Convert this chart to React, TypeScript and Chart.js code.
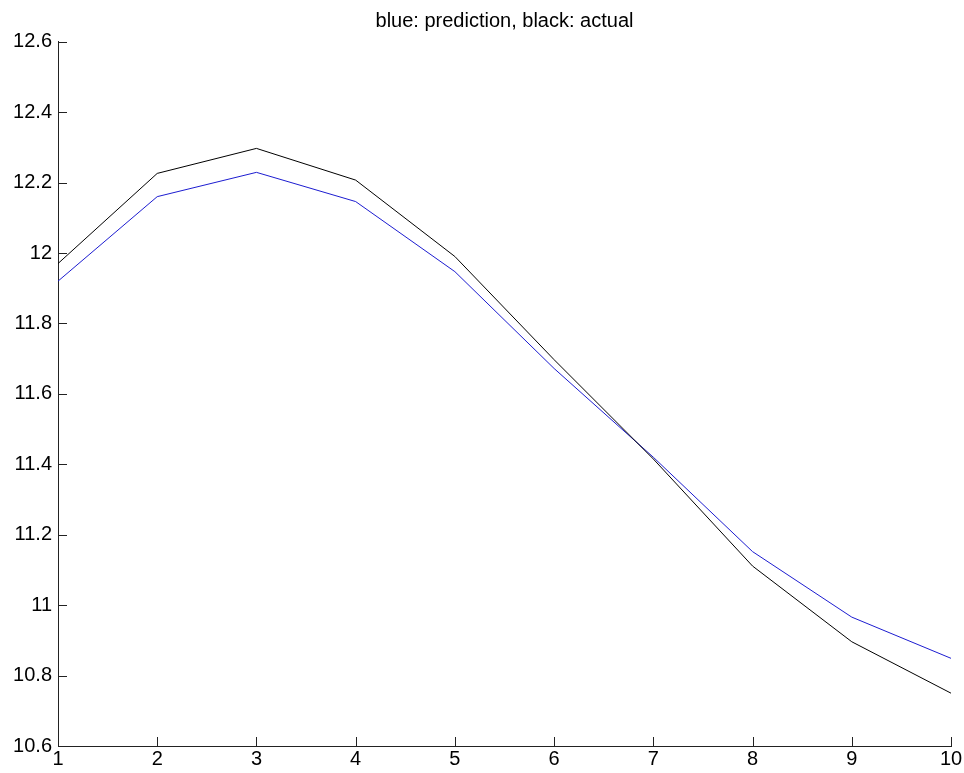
import React, { useEffect, useRef } from "react";
import { Chart, registerables } from "chart.js";

Chart.register(...registerables);

const xValues = [1, 2, 3, 4, 5, 6, 7, 8, 9, 10];
const actual = [11.97, 12.226, 12.297, 12.207, 11.99, 11.697, 11.415, 11.111, 10.896, 10.75];
const prediction = [11.92, 12.16, 12.229, 12.146, 11.947, 11.672, 11.42, 11.152, 10.966, 10.849];
const yTicks = [10.6, 10.8, 11, 11.2, 11.4, 11.6, 11.8, 12, 12.2, 12.4, 12.6];
const titleText = "blue: prediction, black: actual";

const FONT = "Arial, 'Liberation Sans', sans-serif";

export default function App() {
  const ref = useRef<HTMLCanvasElement | null>(null);
  useEffect(() => {
    if (!ref.current) return;
    const innerTicks = {
      id: "innerTicks",
      afterDraw(chart: any) {
        const ctx = chart.ctx;
        const xs = chart.scales.x;
        const ys = chart.scales.y;
        const a = chart.chartArea;
        ctx.save();
        ctx.strokeStyle = "#222";
        ctx.lineWidth = 1;
        ctx.beginPath();
        xValues.forEach((v) => {
          const px = Math.round(xs.getPixelForValue(v)) + 0.5;
          ctx.moveTo(px, a.bottom);
          ctx.lineTo(px, a.bottom - 9);
        });
        yTicks.forEach((v) => {
          const py = Math.round(ys.getPixelForValue(v)) + 0.5;
          ctx.moveTo(a.left, py);
          ctx.lineTo(a.left + 9, py);
        });
        ctx.stroke();
        ctx.fillStyle = "#000";
        ctx.font = `20px ${FONT}`;
        ctx.textAlign = "center";
        ctx.textBaseline = "alphabetic";
        ctx.fillText(titleText, (a.left + a.right) / 2, 26.5);
        ctx.restore();
      },
    };
    const chart = new Chart(ref.current, {
      type: "line",
      data: {
        labels: xValues,
        datasets: [
          {
            label: "actual",
            data: xValues.map((x, i) => ({ x, y: actual[i] })),
            borderColor: "#000000",
            borderWidth: 1,
            pointRadius: 0,
            tension: 0,
          },
          {
            label: "prediction",
            data: xValues.map((x, i) => ({ x, y: prediction[i] })),
            borderColor: "#1c1cd0",
            borderWidth: 1,
            pointRadius: 0,
            tension: 0,
          },
        ],
      },
      options: {
        animation: false,
        responsive: false,
        maintainAspectRatio: false,
        events: [],
        layout: { padding: { top: 41.7, right: 13, left: 0, bottom: 0 } },
        plugins: { legend: { display: false }, title: { display: false }, tooltip: { enabled: false } },
        scales: {
          x: {
            type: "linear",
            min: 1,
            max: 10,
            afterFit: (s: any) => {
              s.height = 27;
            },
            afterBuildTicks: (s: any) => {
              s.ticks = xValues.map((v) => ({ value: v }));
            },
            grid: { display: false, drawTicks: false },
            border: { display: true, color: "#222", width: 1 },
            ticks: {
              color: "#000",
              font: { family: FONT, size: 20 },
              padding: 1,
              maxRotation: 0,
              autoSkip: false,
              callback: (v: any) => String(v),
            },
          },
          y: {
            type: "linear",
            min: 10.6,
            max: 12.6,
            afterFit: (s: any) => {
              s.width = 58;
            },
            afterBuildTicks: (s: any) => {
              s.ticks = yTicks.map((v) => ({ value: v }));
            },
            grid: { display: false, drawTicks: false },
            border: { display: true, color: "#222", width: 1 },
            ticks: {
              color: "#000",
              font: { family: FONT, size: 20 },
              padding: 6,
              autoSkip: false,
              callback: (v: any) => String(Math.round(Number(v) * 10) / 10),
            },
          },
        },
      },
      plugins: [innerTicks],
    });
    return () => chart.destroy();
  }, []);
  return (
    <div style={{ position: "fixed", left: 0, top: 0, width: 964, height: 773, background: "#fff" }}>
      <canvas ref={ref} width={964} height={773} style={{ display: "block" }} />
    </div>
  );
}
